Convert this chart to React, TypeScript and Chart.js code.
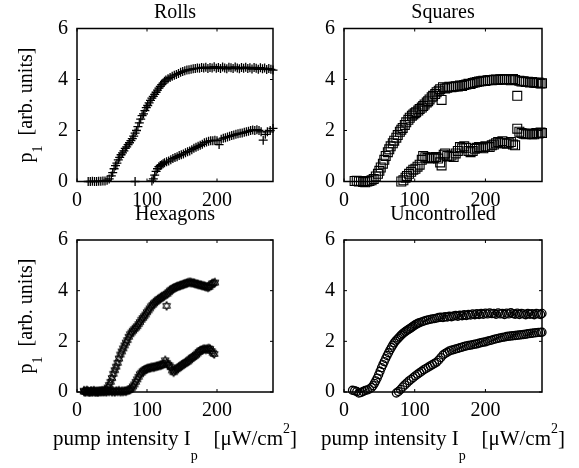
import { useEffect, useRef } from "react";
import { Chart, registerables } from "chart.js";

Chart.register(...registerables);

type Pt = [number, number];

// ---- axis settings ----
const X_MIN = 0;
const X_MAX = 280;
const X_STEP = 100;
const Y_MIN = 0;
const Y_MAX = 6;
const Y_STEP = 2;

// ---- panel titles ----
const PANEL_TITLES = ["Rolls", "Squares", "Hexagons", "Uncontrolled"];

// ---- measured order parameter p1 vs pump intensity (two branches per pattern) ----
const rollsUpper: Pt[] = [
  [16, 0.0], [19, 0.0], [22, 0.01], [25, 0.0], [28, 0.0], [31, 0.01], [34, 0.01], [37, 0.02], [40, 0.02], [43, 0.05],
  [46, 0.1], [49, 0.22], [51, 0.35], [53, 0.5], [55, 0.62], [57, 0.72], [59, 0.85], [61, 0.95], [63, 1.05], [65, 1.12],
  [67, 1.2], [69, 1.3], [71, 1.36], [73, 1.45], [75, 1.52], [77, 1.6], [79, 1.68], [81, 1.78], [83, 1.9], [85, 2.0],
  [87, 2.15], [89, 2.3], [91, 2.45], [93, 2.58], [95, 2.65], [97, 2.78], [99, 2.9], [101, 2.98], [103, 3.08], [105, 3.18],
  [107, 3.27], [109, 3.34], [111, 3.42], [113, 3.5], [115, 3.58], [117, 3.66], [119, 3.73], [121, 3.8], [123, 3.86], [125, 3.93],
  [127, 3.98], [130, 4.03], [133, 4.08], [136, 4.13], [139, 4.17], [142, 4.2], [145, 4.24], [148, 4.28], [151, 4.31], [154, 4.34],
  [157, 4.37], [160, 4.38], [163, 4.4], [166, 4.42], [169, 4.43], [172, 4.45], [175, 4.44], [178, 4.47], [181, 4.45], [184, 4.48],
  [187, 4.43], [190, 4.47], [193, 4.45], [196, 4.5], [199, 4.44], [202, 4.47], [205, 4.43], [208, 4.49], [211, 4.45], [214, 4.42],
  [217, 4.48], [220, 4.46], [223, 4.43], [226, 4.49], [229, 4.45], [232, 4.42], [235, 4.47], [238, 4.44], [241, 4.48], [244, 4.43],
  [247, 4.46], [250, 4.41], [253, 4.47], [256, 4.44], [259, 4.4], [262, 4.46], [265, 4.42], [268, 4.45], [271, 4.39], [274, 4.43],
  [277, 4.4], [280, 4.37],
];

const rollsLower: Pt[] = [
  [83, 0.0], [107, 0.02], [109, 0.1], [111, 0.25], [113, 0.4], [115, 0.5], [117, 0.58], [119, 0.63], [121, 0.66], [123, 0.7],
  [125, 0.74], [128, 0.77], [131, 0.8], [134, 0.85], [137, 0.9], [140, 0.94], [143, 0.97], [146, 1.02], [149, 1.05], [152, 1.08],
  [155, 1.13], [158, 1.17], [161, 1.2], [164, 1.25], [167, 1.3], [170, 1.34], [173, 1.38], [176, 1.42], [179, 1.46], [182, 1.52],
  [185, 1.55], [188, 1.58], [191, 1.6], [194, 1.6], [197, 1.62], [200, 1.6], [203, 1.45], [206, 1.66], [209, 1.7], [212, 1.72],
  [215, 1.75], [218, 1.77], [221, 1.8], [224, 1.82], [227, 1.85], [230, 1.87], [233, 1.89], [236, 1.9], [239, 1.93], [242, 1.95],
  [245, 1.97], [248, 2.0], [251, 2.02], [254, 2.0], [257, 2.03], [260, 2.0], [263, 1.95], [266, 1.62], [269, 1.85], [272, 1.95],
  [276, 2.0], [280, 2.08],
];

const squaresUpper: Pt[] = [
  [15, 0.02], [18, 0.03], [21, 0.0], [24, 0.02], [27, -0.02], [30, -0.03], [33, 0.0], [36, 0.02], [39, 0.05], [42, 0.1],
  [45, 0.2], [48, 0.3], [50, 0.42], [52, 0.55], [55, 0.7], [57, 0.85], [59, 1.0], [62, 1.15], [64, 1.26], [66, 1.38],
  [69, 1.5], [71, 1.6], [74, 1.72], [76, 1.82], [79, 1.95], [81, 2.03], [83, 2.1], [86, 2.22], [88, 2.32], [91, 2.42],
  [93, 2.5], [96, 2.58], [98, 2.63], [100, 2.68], [102, 2.72], [105, 2.78], [107, 2.84], [110, 2.9], [112, 2.96], [114, 3.02],
  [117, 3.1], [119, 3.15], [121, 3.22], [124, 3.3], [126, 3.36], [129, 3.43], [131, 3.5], [134, 3.56], [136, 3.62], [138, 3.2],
  [140, 3.7], [143, 3.65], [146, 3.68], [149, 3.72], [152, 3.7], [155, 3.72], [158, 3.74], [161, 3.73], [164, 3.76], [167, 3.75],
  [170, 3.78], [173, 3.8], [176, 3.83], [179, 3.82], [182, 3.86], [185, 3.88], [188, 3.9], [191, 3.92], [194, 3.93], [197, 3.95],
  [200, 3.94], [203, 3.97], [206, 3.98], [209, 3.97], [212, 3.99], [215, 4.0], [218, 3.98], [221, 4.01], [224, 4.0], [227, 4.02],
  [230, 3.99], [233, 4.01], [236, 3.97], [239, 4.02], [242, 3.98], [245, 3.36], [248, 3.95], [251, 3.92], [254, 3.93], [257, 3.9],
  [260, 3.91], [263, 3.88], [266, 3.9], [269, 3.87], [272, 3.86], [275, 3.88], [278, 3.84], [280, 3.85],
];

const squaresLower: Pt[] = [
  [81, 0.0], [84, 0.05], [87, 0.15], [89, 0.22], [92, 0.3], [95, 0.38], [98, 0.46], [101, 0.5], [104, 0.58], [107, 0.66],
  [110, 0.85], [112, 1.0], [115, 0.95], [118, 0.92], [121, 0.9], [124, 0.95], [127, 0.92], [130, 0.96], [133, 0.9], [136, 0.75],
  [138, 0.63], [141, 1.05], [143, 1.1], [146, 1.0], [149, 0.98], [152, 1.02], [155, 0.96], [158, 1.1], [161, 1.2], [164, 1.35],
  [167, 1.3], [170, 1.38], [173, 1.32], [176, 1.2], [179, 1.15], [182, 1.2], [185, 1.28], [188, 1.32], [191, 1.35], [194, 1.33],
  [197, 1.3], [200, 1.38], [203, 1.35], [206, 1.35], [209, 1.42], [212, 1.45], [215, 1.5], [218, 1.55], [221, 1.52], [224, 1.58],
  [227, 1.5], [230, 1.48], [233, 1.52], [236, 1.55], [239, 1.45], [242, 1.42], [245, 2.07], [248, 1.95], [251, 1.9], [254, 1.87],
  [257, 1.85], [260, 1.88], [263, 1.86], [266, 1.85], [269, 1.85], [272, 1.9], [275, 1.88], [278, 1.92], [280, 1.9],
];

const hexagonsUpper: Pt[] = [
  [10, 0.02], [12, 0.0], [14, 0.03], [16, 0.01], [18, 0.0], [20, 0.02], [22, 0.0], [24, 0.03], [26, 0.01], [28, 0.0],
  [30, 0.02], [32, 0.01], [34, 0.03], [36, 0.02], [38, 0.04], [40, 0.06], [42, 0.1], [44, 0.18], [46, 0.28], [48, 0.4],
  [50, 0.55], [52, 0.72], [54, 0.86], [56, 1.0], [58, 1.15], [60, 1.32], [62, 1.48], [64, 1.6], [66, 1.72], [68, 1.84],
  [70, 1.95], [72, 2.05], [74, 2.18], [76, 2.28], [78, 2.35], [80, 2.42], [82, 2.48], [84, 2.54], [86, 2.6], [88, 2.68],
  [90, 2.76], [92, 2.85], [94, 2.92], [96, 2.99], [98, 3.06], [100, 3.15], [102, 3.22], [104, 3.3], [106, 3.38], [108, 3.44],
  [110, 3.5], [112, 3.55], [114, 3.6], [116, 3.65], [118, 3.68], [120, 3.72], [122, 3.76], [124, 3.8], [126, 3.84], [128, 3.4],
  [129, 3.88], [131, 3.94], [133, 4.0], [135, 4.04], [137, 4.08], [139, 4.11], [141, 4.14], [143, 4.16], [145, 4.18], [147, 4.2],
  [149, 4.22], [151, 4.24], [153, 4.26], [155, 4.28], [157, 4.3], [159, 4.32], [161, 4.33], [163, 4.32], [165, 4.31], [167, 4.3],
  [169, 4.28], [171, 4.26], [173, 4.25], [175, 4.23], [177, 4.22], [179, 4.2], [181, 4.19], [183, 4.17], [185, 4.15], [187, 4.13],
  [189, 4.15], [191, 4.22], [193, 4.28], [195, 4.3], [197, 4.32],
];

const hexagonsLower: Pt[] = [
  [10, 0.05], [12, 0.02], [14, 0.06], [16, 0.03], [18, 0.0], [20, 0.04], [22, 0.02], [24, 0.05], [26, 0.01], [28, 0.03],
  [30, 0.0], [32, 0.04], [34, 0.02], [36, 0.05], [38, 0.01], [40, 0.03], [42, 0.0], [44, 0.04], [46, 0.02], [48, 0.05],
  [50, 0.01], [52, 0.03], [54, 0.0], [56, 0.04], [58, 0.02], [60, 0.05], [62, 0.01], [64, 0.03], [66, 0.02], [68, 0.04],
  [70, 0.03], [72, 0.06], [74, 0.08], [76, 0.1], [78, 0.15], [80, 0.22], [82, 0.3], [84, 0.4], [86, 0.5], [88, 0.6],
  [90, 0.7], [92, 0.76], [94, 0.82], [96, 0.86], [98, 0.9], [100, 0.92], [102, 0.94], [104, 0.95], [106, 0.97], [108, 0.98],
  [110, 0.98], [112, 1.0], [114, 1.02], [116, 1.03], [118, 1.05], [120, 1.06], [122, 1.08], [124, 1.12], [126, 1.25], [128, 1.15],
  [130, 1.08], [132, 1.05], [134, 0.98], [136, 0.85], [138, 0.78], [140, 0.85], [142, 0.9], [144, 0.94], [146, 0.98], [148, 1.02],
  [150, 1.06], [152, 1.1], [154, 1.14], [156, 1.17], [158, 1.2], [160, 1.25], [162, 1.3], [164, 1.35], [166, 1.38], [168, 1.42],
  [170, 1.47], [172, 1.52], [174, 1.58], [176, 1.63], [178, 1.66], [180, 1.68], [182, 1.7], [184, 1.68], [186, 1.7], [188, 1.72],
  [190, 1.7], [192, 1.62], [194, 1.55], [196, 1.5],
];

const uncontrolledUpper: Pt[] = [
  [12, 0.07], [15, 0.05], [18, 0.02], [21, -0.04], [24, -0.02], [27, 0.02], [30, 0.06], [33, 0.08], [36, 0.12], [39, 0.18],
  [41, 0.25], [43, 0.34], [45, 0.44], [47, 0.55], [49, 0.68], [51, 0.82], [53, 0.96], [55, 1.08], [57, 1.2], [59, 1.32],
  [61, 1.44], [63, 1.55], [65, 1.66], [67, 1.76], [69, 1.85], [71, 1.94], [73, 2.01], [75, 2.07], [77, 2.13], [79, 2.19],
  [81, 2.25], [83, 2.3], [85, 2.35], [87, 2.39], [89, 2.43], [91, 2.47], [93, 2.5], [95, 2.54], [97, 2.58], [99, 2.62],
  [101, 2.66], [103, 2.69], [105, 2.72], [107, 2.74], [110, 2.77], [113, 2.8], [116, 2.83], [119, 2.85], [122, 2.87], [125, 2.89],
  [128, 2.9], [131, 2.92], [134, 2.94], [137, 2.95], [140, 2.94], [143, 2.97], [146, 2.96], [149, 2.99], [152, 2.97], [155, 3.0],
  [158, 3.02], [161, 2.99], [164, 3.03], [167, 3.01], [170, 3.05], [173, 3.02], [176, 3.06], [179, 3.04], [182, 3.08], [185, 3.05],
  [188, 3.09], [191, 3.06], [194, 3.1], [197, 3.07], [200, 3.11], [203, 3.08], [206, 3.12], [209, 3.09], [212, 3.1], [215, 3.07],
  [218, 3.12], [221, 3.08], [224, 3.1], [227, 3.06], [230, 3.11], [233, 3.08], [236, 3.13], [239, 3.09], [242, 3.07], [245, 3.11],
  [248, 3.06], [251, 3.1], [254, 3.08], [257, 3.05], [260, 3.1], [263, 3.07], [266, 3.09], [269, 3.05], [272, 3.1], [275, 3.08],
  [278, 3.06], [280, 3.1],
];

const uncontrolledLower: Pt[] = [
  [74, -0.04], [77, 0.02], [80, 0.1], [83, 0.2], [86, 0.28], [89, 0.36], [92, 0.44], [95, 0.5], [98, 0.57], [101, 0.64],
  [104, 0.7], [107, 0.76], [110, 0.82], [113, 0.88], [116, 0.93], [119, 0.98], [122, 1.03], [125, 1.08], [128, 1.13], [131, 1.18],
  [134, 1.26], [137, 1.36], [140, 1.46], [143, 1.52], [146, 1.57], [149, 1.62], [152, 1.65], [155, 1.67], [158, 1.7], [161, 1.72],
  [164, 1.75], [167, 1.77], [170, 1.8], [173, 1.82], [176, 1.84], [179, 1.85], [182, 1.87], [185, 1.89], [188, 1.9], [191, 1.93],
  [194, 1.95], [197, 1.97], [200, 1.98], [203, 2.01], [206, 2.03], [209, 2.05], [212, 2.08], [215, 2.1], [218, 2.12], [221, 2.14],
  [224, 2.16], [227, 2.17], [230, 2.19], [233, 2.2], [236, 2.21], [239, 2.22], [242, 2.23], [245, 2.24], [248, 2.25], [251, 2.26],
  [254, 2.27], [257, 2.28], [260, 2.3], [263, 2.31], [266, 2.32], [269, 2.33], [272, 2.34], [275, 2.35], [278, 2.35], [280, 2.36],
];

// ---- page / layout ----
const W = 579;
const H = 468;
const FONT = '"Liberation Serif", "Times New Roman", serif';
const TICK_LEN = 3;

type Run = { text: string; size: number; dy: number };

const Y_TITLE: Run[] = [
  { text: "p", size: 20, dy: 0 },
  { text: "1", size: 14, dy: 10 },
  { text: "  [arb. units]", size: 20, dy: 0 },
];

const X_TITLE: Run[] = [
  { text: "pump intensity I", size: 21, dy: 0 },
  { text: "p", size: 14, dy: 15 },
  { text: "   [\u03BCW/cm", size: 21, dy: 0 },
  { text: "2", size: 14, dy: -12 },
  { text: "]", size: 21, dy: 0 },
];

type Marker = "cross" | "rect" | "hexagram" | "circle";

type PanelSpec = {
  title: string;
  area: { left: number; top: number; right: number; bottom: number };
  titleBaseline: number;
  yTitle: boolean;
  xTitle: boolean;
  series: Pt[][];
  marker: Marker;
  radius: number;
  lineWidth: number;
};

const PANELS: PanelSpec[] = [
  {
    title: PANEL_TITLES[0],
    area: { left: 77, top: 28.5, right: 273, bottom: 181.5 },
    titleBaseline: 18,
    yTitle: true,
    xTitle: false,
    series: [rollsUpper, rollsLower],
    marker: "cross",
    radius: 4.5,
    lineWidth: 1.3,
  },
  {
    title: PANEL_TITLES[1],
    area: { left: 344, top: 28.5, right: 542, bottom: 181.5 },
    titleBaseline: 18,
    yTitle: false,
    xTitle: false,
    series: [squaresUpper, squaresLower],
    marker: "rect",
    radius: 6.3,
    lineWidth: 1.1,
  },
  {
    title: PANEL_TITLES[2],
    area: { left: 77, top: 240, right: 273, bottom: 392 },
    titleBaseline: 220,
    yTitle: true,
    xTitle: true,
    series: [hexagonsUpper, hexagonsLower],
    marker: "hexagram",
    radius: 4.5,
    lineWidth: 1,
  },
  {
    title: PANEL_TITLES[3],
    area: { left: 344, top: 240, right: 542, bottom: 392 },
    titleBaseline: 220,
    yTitle: false,
    xTitle: true,
    series: [uncontrolledUpper, uncontrolledLower],
    marker: "circle",
    radius: 4,
    lineWidth: 1.3,
  },
];

const X_TITLE_BASELINE = 445;
const Y_TITLE_X = 32;

function drawRuns(ctx: CanvasRenderingContext2D, runs: Run[], cx: number, baseline: number) {
  const widths = runs.map((r) => {
    ctx.font = `${r.size}px ${FONT}`;
    return ctx.measureText(r.text).width;
  });
  const total = widths.reduce((a, b) => a + b, 0);
  let x = cx - total / 2;
  ctx.textAlign = "left";
  ctx.textBaseline = "alphabetic";
  runs.forEach((r, i) => {
    ctx.font = `${r.size}px ${FONT}`;
    ctx.fillText(r.text, x, baseline + r.dy);
    x += widths[i];
  });
}

// six-pointed star outline used as the hexagon-pattern marker
function makeHexagram(r: number, lw: number): HTMLCanvasElement {
  const size = Math.ceil(r * 2 + 3);
  const c = document.createElement("canvas");
  c.width = size;
  c.height = size;
  const g = c.getContext("2d")!;
  g.strokeStyle = "#000";
  g.lineWidth = lw;
  const cx = size / 2;
  const cy = size / 2;
  for (const rot of [-Math.PI / 2, Math.PI / 2]) {
    g.beginPath();
    for (let k = 0; k < 3; k++) {
      const ang = rot + (k * 2 * Math.PI) / 3;
      const px = cx + r * Math.cos(ang);
      const py = cy + r * Math.sin(ang);
      if (k === 0) g.moveTo(px, py);
      else g.lineTo(px, py);
    }
    g.closePath();
    g.stroke();
  }
  return c;
}

const frameAndText = {
  id: "frameAndText",
  afterDraw(chart: any, _args: any, opts: any) {
    const spec: PanelSpec = opts.spec;
    const { ctx, chartArea: a } = chart;
    const xs = chart.scales.x;
    const ys = chart.scales.y;
    ctx.save();
    ctx.strokeStyle = "#000";
    ctx.fillStyle = "#000";
    ctx.lineWidth = 1.5;
    ctx.strokeRect(a.left, a.top, a.right - a.left, a.bottom - a.top);

    ctx.lineWidth = 1;
    ctx.beginPath();
    for (const t of xs.ticks) {
      const px = xs.getPixelForValue(t.value);
      ctx.moveTo(px, a.bottom);
      ctx.lineTo(px, a.bottom - TICK_LEN);
      ctx.moveTo(px, a.top);
      ctx.lineTo(px, a.top + TICK_LEN);
    }
    for (const t of ys.ticks) {
      const py = ys.getPixelForValue(t.value);
      ctx.moveTo(a.left, py);
      ctx.lineTo(a.left + TICK_LEN, py);
      ctx.moveTo(a.right, py);
      ctx.lineTo(a.right - TICK_LEN, py);
    }
    ctx.stroke();

    drawRuns(ctx, [{ text: spec.title, size: 20, dy: 0 }], (a.left + a.right) / 2, spec.titleBaseline);

    if (spec.xTitle) {
      drawRuns(ctx, X_TITLE, (a.left + a.right) / 2, X_TITLE_BASELINE);
    }
    if (spec.yTitle) {
      ctx.translate(Y_TITLE_X, (a.top + a.bottom) / 2);
      ctx.rotate(-Math.PI / 2);
      drawRuns(ctx, Y_TITLE, 0, 0);
    }
    ctx.restore();
  },
};

function Panel({ spec }: { spec: PanelSpec }) {
  const ref = useRef<HTMLCanvasElement>(null);

  useEffect(() => {
    const canvas = ref.current;
    if (!canvas) return;
    const pointStyle: any =
      spec.marker === "hexagram" ? makeHexagram(spec.radius, spec.lineWidth) : spec.marker;

    const chart = new Chart(canvas, {
      type: "scatter",
      data: {
        datasets: spec.series.map((pts) => ({
          data: pts.map(([x, y]) => ({ x, y })),
          pointStyle,
          pointRadius: spec.radius,
          pointBorderWidth: spec.lineWidth,
          pointBorderColor: "#000",
          pointBackgroundColor: "rgba(0,0,0,0)",
          borderColor: "#000",
          backgroundColor: "rgba(0,0,0,0)",
          showLine: false,
          clip: false as any,
        })),
      },
      options: {
        animation: false,
        responsive: false,
        events: [],
        layout: {
          padding: {
            left: 0,
            top: spec.area.top,
            right: W - spec.area.right,
            bottom: 0,
          },
        },
        plugins: {
          legend: { display: false },
          tooltip: { enabled: false },
          title: { display: false },
          frameAndText: { spec },
        } as any,
        scales: {
          x: {
            type: "linear",
            min: X_MIN,
            max: X_MAX,
            grid: { display: false, drawTicks: false },
            border: { display: false },
            ticks: {
              stepSize: X_STEP,
              includeBounds: false,
              padding: 7,
              color: "#000",
              font: { family: FONT, size: 20 },
              maxRotation: 0,
            },
            afterFit: (s: any) => {
              s.height = H - spec.area.bottom;
            },
          },
          y: {
            type: "linear",
            min: Y_MIN,
            max: Y_MAX,
            grid: { display: false, drawTicks: false },
            border: { display: false },
            ticks: {
              stepSize: Y_STEP,
              includeBounds: false,
              padding: 9,
              color: "#000",
              font: { family: FONT, size: 20 },
            },
            afterFit: (s: any) => {
              s.width = spec.area.left;
            },
          },
        },
      },
      plugins: [frameAndText],
    });

    return () => chart.destroy();
  }, [spec]);

  return (
    <canvas
      ref={ref}
      width={W}
      height={H}
      style={{ position: "absolute", left: 0, top: 0, width: W, height: H, display: "block" }}
    />
  );
}

export default function App() {
  return (
    <div style={{ position: "absolute", left: 0, top: 0, width: W, height: H, background: "#fff", overflow: "hidden" }}>
      {PANELS.map((p) => (
        <Panel key={p.title} spec={p} />
      ))}
    </div>
  );
}
